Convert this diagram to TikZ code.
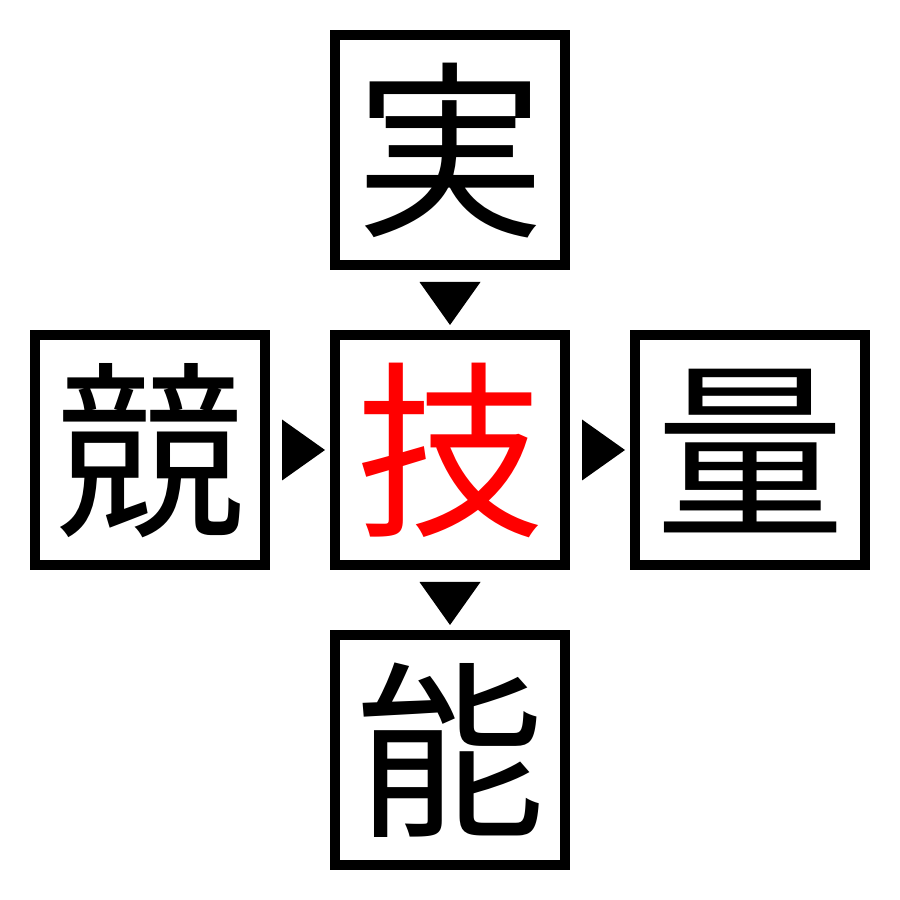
\documentclass[tikz,border=0pt]{standalone}
\usepackage{fontspec}
\newfontfamily\jpfont{Noto Sans CJK JP}
\usetikzlibrary{positioning}
\tikzset{%
  >=latex,
  kbox/.style={draw,line width=0.1cm,minimum size=2.3cm,inner sep=0pt,
    font=\jpfont\fontsize{54}{54}\selectfont,text height=47.5pt,text depth=6.5pt},
  tri/.style={fill=black,draw=none}
}
\begin{document}
\begin{tikzpicture}[node distance=0.6cm]
	\useasboundingbox (0,0) rectangle (9,9);
	\node[kbox,text=red] (gi) at (4.5,4.5) {技};
	\node[kbox,above=of gi] (jitsu) {実};
	\node[kbox,below=of gi] (nou) {能};
	\node[kbox,left=of gi] (kyou) {競};
	\node[kbox,right=of gi] (ryou) {量};
	% arrow marks
	\fill[tri,shift={(gi.north)}] (-0.305,0.48) -- (0.305,0.48) -- (0,0.05) -- cycle;
	\fill[tri,shift={(nou.north)}] (-0.305,0.48) -- (0.305,0.48) -- (0,0.05) -- cycle;
	\fill[tri,shift={(gi.west)}] (-0.48,0.305) -- (-0.48,-0.305) -- (-0.05,0) -- cycle;
	\fill[tri,shift={(ryou.west)}] (-0.48,0.305) -- (-0.48,-0.305) -- (-0.05,0) -- cycle;
\end{tikzpicture}
\end{document}
